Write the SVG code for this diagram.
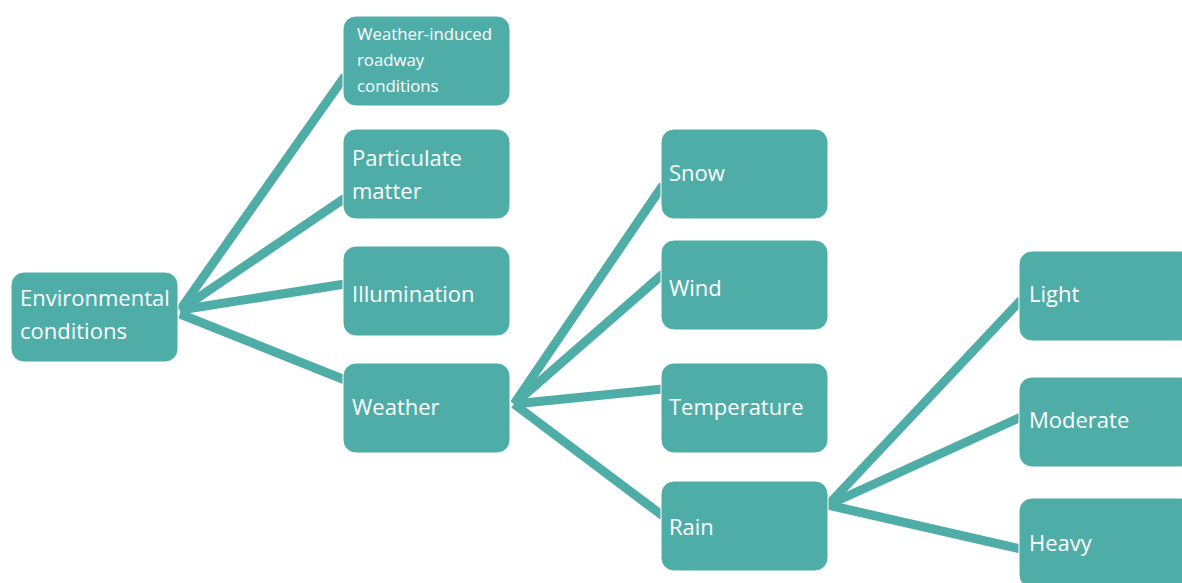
<svg xmlns="http://www.w3.org/2000/svg" width="1182" height="583" viewBox="0 0 1182 583">
<style>
.n{fill:#4FADA8;stroke:#fff;stroke-width:1}
.t{font-family:"Open Sans",Lato,sans-serif;font-size:22px;fill:#fff}
.s{font-size:16.8px}
.c{stroke:#4FADA8;stroke-width:9;fill:none}
</style>
<rect width="1182" height="583" fill="#fff"/>
<g id="connectors">
<line class="c" x1="180" y1="310" x2="345" y2="76"/>
<line class="c" x1="180" y1="310" x2="345" y2="198"/>
<line class="c" x1="180" y1="310" x2="345" y2="284"/>
<line class="c" x1="180" y1="314" x2="345" y2="380"/>
<line class="c" x1="514" y1="404" x2="663" y2="185"/>
<line class="c" x1="514" y1="404" x2="663" y2="274"/>
<line class="c" x1="514" y1="404" x2="663" y2="389"/>
<line class="c" x1="514" y1="404" x2="663" y2="516"/>
<line class="c" x1="828" y1="505" x2="1021" y2="300"/>
<line class="c" x1="828" y1="505" x2="1021" y2="417"/>
<line class="c" x1="828" y1="505" x2="1021" y2="549"/>
</g>
<g id="environmental"><rect class="n" x="11" y="272" width="167" height="90" rx="13"/><text class="t" x="20" y="306">Environmental</text><text class="t" x="20" y="339">conditions</text></g>
<g id="roadway"><rect class="n" x="343" y="16" width="167" height="90" rx="13"/><text class="t s" x="357" y="40">Weather-induced</text><text class="t s" x="357" y="66">roadway</text><text class="t s" x="357" y="92">conditions</text></g>
<g id="particulate"><rect class="n" x="343" y="129" width="167" height="90" rx="13"/><text class="t" x="352" y="166">Particulate</text><text class="t" x="352" y="199">matter</text></g>
<g id="illumination"><rect class="n" x="343" y="246" width="167" height="90" rx="13"/><text class="t" x="352" y="302">Illumination</text></g>
<g id="weather"><rect class="n" x="343" y="363" width="167" height="90" rx="13"/><text class="t" x="352" y="415">Weather</text></g>
<g id="snow"><rect class="n" x="661" y="129" width="167" height="90" rx="13"/><text class="t" x="669" y="181">Snow</text></g>
<g id="wind"><rect class="n" x="661" y="240" width="167" height="90" rx="13"/><text class="t" x="669" y="296">Wind</text></g>
<g id="temperature"><rect class="n" x="661" y="363" width="167" height="90" rx="13"/><text class="t" x="669" y="415">Temperature</text></g>
<g id="rain"><rect class="n" x="661" y="481" width="167" height="90" rx="13"/><text class="t" x="669" y="535">Rain</text></g>
<g id="light"><rect class="n" x="1019" y="251" width="175" height="90" rx="13"/><text class="t" x="1029" y="302">Light</text></g>
<g id="moderate"><rect class="n" x="1019" y="377" width="175" height="90" rx="13"/><text class="t" x="1029" y="428">Moderate</text></g>
<g id="heavy"><rect class="n" x="1019" y="498" width="175" height="90" rx="13"/><text class="t" x="1029" y="551">Heavy</text></g>
</svg>
